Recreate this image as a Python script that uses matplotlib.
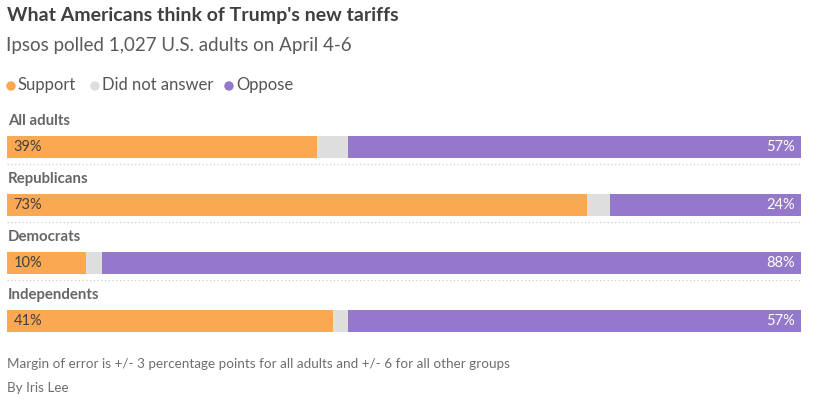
import matplotlib
matplotlib.use("Agg")
import matplotlib.pyplot as plt
import numpy as np

plt.rcParams['font.family'] = ['Lato', 'DejaVu Sans']

categories = ["All adults", "Republicans", "Democrats", "Independents"]
support = [39, 73, 10, 41]
no_answer = [4, 3, 2, 2]
oppose = [57, 24, 88, 57]
legend_labels = ["Support", "Did not answer", "Oppose"]

C_SUP = "#fba852"
C_NA = "#dedede"
C_OPP = "#9378cc"

W, H = 816, 399
fig = plt.figure(figsize=(W / 100, H / 100), dpi=100)

# axes: x from 7px to 801px, rows 58px apart, first row centre at y=147px
left_px, right_px = 7, 801
top_px, bot_px = 118, 350
ax = fig.add_axes([left_px / W, 1 - bot_px / H, (right_px - left_px) / W, (bot_px - top_px) / H])
ax.set_xlim(0, 100)
ax.set_ylim(3.5, -0.5)
ax.axis("off")

y = np.arange(len(categories))
bh = 22 / 58
sup = np.array(support)
na = np.array(no_answer)
opp = np.array(oppose)
ax.barh(y, sup, height=bh, color=C_SUP, linewidth=0)
ax.barh(y, na, left=sup, height=bh, color=C_NA, linewidth=0)
ax.barh(y, opp, left=sup + na, height=bh, color=C_OPP, linewidth=0)

for i, cat in enumerate(categories):
    ax.text(0.1, i - 26 / 58, cat, ha="left", va="center", fontsize=10.8,
            fontweight="bold", color="#666666")
    ax.text(0.8, i, f"{support[i]}%", ha="left", va="center", fontsize=10.5,
            color="#404040")
    ax.text(99.2, i, f"{oppose[i]}%", ha="right", va="center", fontsize=10.5,
            color="white")
    if i < len(categories) - 1:
        ax.plot([0, 100], [i + 17.3 / 58] * 2, linestyle=(0, (1, 2)), color="#cccccc",
                linewidth=0.9, clip_on=False)

def fx(px):
    return px / W

def fy(px):
    return 1 - px / H

fig.text(fx(7), fy(15), "What Americans think of Trump's new tariffs", ha="left", va="center",
         fontsize=14, fontweight="bold", color="#404040")
fig.text(fx(6), fy(46), "Ipsos polled 1,027 U.S. adults on April 4-6", ha="left", va="center",
         fontsize=13.5, fontweight="normal", color="#5a5a5a")

# legend
leg_colors = [C_SUP, C_NA, C_OPP]
leg_x = [7, 91, 225]
for lbl, c, x0 in zip(legend_labels, leg_colors, leg_x):
    fig.patches.append(matplotlib.patches.Ellipse((fx(x0 + 4), fy(86)), 8 / W, 8 / H,
                                                  transform=fig.transFigure, color=c, zorder=3))
    fig.text(fx(x0 + 11), fy(85), lbl, ha="left", va="center", fontsize=12,
             color="#555555")

fig.text(fx(7), fy(364), "Margin of error is +/- 3 percentage points for all adults and +/- 6 for all other groups",
         ha="left", va="center", fontsize=9.7, color="#6e6e6e")
fig.text(fx(7), fy(388), "By Iris Lee", ha="left", va="center", fontsize=9.7, color="#6e6e6e")

fig.savefig("out.png", dpi=100, facecolor="white")
